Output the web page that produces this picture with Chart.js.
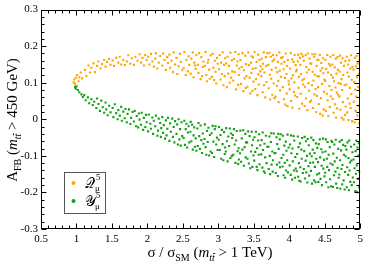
<!DOCTYPE html>
<html><head><meta charset="utf-8">
<script src="https://cdn.jsdelivr.net/npm/chart.js@4/dist/chart.umd.min.js"></script>
<style>html,body{margin:0;padding:0;background:#fff}</style>
</head><body>
<canvas id="c" width="367" height="262"></canvas>
<script>
const xTickValues=[0.5,1,1.5,2,2.5,3,3.5,4,4.5,5];
const yTickValues=[-0.3,-0.2,-0.1,0,0.1,0.2,0.3];
const seriesColors=['#FFA500','#12A012'];
// Q_mu^5 points [sigma/sigma_SM, A_FB]
const qPoints=[
[0.96,0.101],[0.98,0.097],[0.97,0.109],[0.99,0.114],
[1.01,0.121],[1.03,0.104],[1.06,0.128],[1.08,0.112],[1.04,0.115],
[1.12,0.135],[1.14,0.118],[1.17,0.147],[1.19,0.128],
[1.21,0.141],[1.24,0.153],[1.26,0.129],[1.29,0.146],
[1.31,0.158],[1.34,0.139],[1.36,0.151],[1.39,0.162],
[1.41,0.144],[1.43,0.157],[1.46,0.165],[1.48,0.149],
[1.51,0.161],[1.53,0.146],[1.56,0.168],[1.59,0.155],
[1.61,0.171],[1.63,0.150],[1.66,0.162],[1.68,0.148],
[1.71,0.158],[1.73,0.175],[1.76,0.152],[1.78,0.167],
[1.81,0.149],[1.83,0.171],[1.86,0.160],[1.89,0.178],
[1.91,0.155],[1.93,0.168],[1.95,0.147],[1.97,0.176],[1.99,0.162],
[2.01,0.171],[2.03,0.150],[2.05,0.179],[2.07,0.158],[2.09,0.144],
[2.11,0.166],[2.12,0.181],[2.14,0.139],[2.16,0.155],[2.18,0.173],
[2.21,0.147],[2.22,0.180],[2.24,0.162],[2.26,0.135],[2.28,0.170],[2.29,0.154],
[2.31,0.177],[2.32,0.141],[2.34,0.160],[2.36,0.129],[2.37,0.183],[2.39,0.150],
[2.41,0.168],[2.42,0.124],[2.44,0.145],[2.46,0.179],[2.47,0.157],[2.49,0.134],
[2.51,0.140],[2.52,0.184],[2.54,0.121],[2.55,0.162],[2.57,0.131],[2.58,0.172],[2.59,0.149],
[2.61,0.125],[2.62,0.166],[2.64,0.183],[2.65,0.115],[2.67,0.147],[2.68,0.138],[2.69,0.176],[2.66,0.155],
[2.71,0.149],[2.72,0.127],[2.73,0.181],[2.75,0.110],[2.76,0.170],[2.77,0.118],[2.79,0.158],[2.78,0.143],
[2.81,0.146],[2.82,0.184],[2.83,0.121],[2.84,0.104],[2.86,0.163],[2.87,0.136],[2.88,0.111],[2.89,0.175],[2.85,0.155],
[2.91,0.116],[2.92,0.179],[2.93,0.141],[2.94,0.107],[2.95,0.160],[2.96,0.130],[2.97,0.098],[2.98,0.168],[2.99,0.152],
[3.01,0.137],[3.02,0.176],[3.03,0.109],[3.04,0.155],[3.05,0.124],[3.06,0.183],[3.07,0.093],[3.08,0.149],[3.09,0.118],[3.095,0.167],
[3.11,0.153],[3.12,0.088],[3.13,0.171],[3.14,0.125],[3.15,0.146],[3.16,0.100],[3.17,0.182],[3.18,0.114],[3.19,0.161],[3.195,0.131],
[3.21,0.106],[3.22,0.165],[3.23,0.129],[3.24,0.184],[3.25,0.082],[3.26,0.147],[3.27,0.158],[3.28,0.094],[3.285,0.178],[3.29,0.121],[3.295,0.139],
[3.31,0.162],[3.32,0.097],[3.33,0.143],[3.34,0.181],[3.35,0.077],[3.36,0.134],[3.37,0.112],[3.38,0.174],[3.385,0.086],[3.39,0.151],[3.395,0.118],
[3.41,0.089],[3.42,0.183],[3.43,0.148],[3.44,0.114],[3.45,0.071],[3.46,0.155],[3.465,0.127],[3.47,0.172],[3.48,0.078],[3.485,0.138],[3.49,0.169],[3.495,0.103],
[3.51,0.184],[3.52,0.083],[3.525,0.140],[3.53,0.110],[3.54,0.157],[3.55,0.066],[3.56,0.177],[3.565,0.123],[3.57,0.095],[3.58,0.162],[3.59,0.131],[3.595,0.145],
[3.605,0.118],[3.61,0.166],[3.62,0.137],[3.625,0.074],[3.63,0.152],[3.64,0.183],[3.645,0.093],[3.65,0.128],[3.66,0.060],[3.67,0.170],[3.675,0.146],[3.68,0.102],[3.69,0.181],
[3.705,0.149],[3.71,0.085],[3.72,0.182],[3.725,0.122],[3.73,0.054],[3.74,0.171],[3.745,0.111],[3.75,0.135],[3.76,0.067],[3.765,0.159],[3.77,0.176],[3.78,0.098],[3.785,0.164],[3.79,0.058],
[3.805,0.062],[3.81,0.141],[3.82,0.175],[3.825,0.091],[3.83,0.129],[3.84,0.157],[3.845,0.105],[3.85,0.047],[3.86,0.183],[3.865,0.133],[3.87,0.079],[3.88,0.116],[3.885,0.168],[3.89,0.152],
[3.905,0.170],[3.91,0.088],[3.92,0.137],[3.925,0.055],[3.93,0.157],[3.94,0.113],[3.945,0.040],[3.95,0.180],[3.96,0.124],[3.965,0.071],[3.97,0.146],[3.975,0.036],[3.98,0.162],[3.99,0.104],[3.995,0.096],
[4.005,0.082],[4.01,0.139],[4.02,0.181],[4.025,0.050],[4.03,0.112],[4.04,0.164],[4.045,0.032],[4.05,0.120],[4.06,0.157],[4.065,0.075],[4.07,0.101],[4.075,0.176],[4.08,0.065],[4.09,0.148],[4.095,0.131],
[4.105,0.135],[4.11,0.061],[4.12,0.158],[4.125,0.177],[4.13,0.086],[4.135,0.116],[4.14,0.029],[4.15,0.168],[4.155,0.149],[4.16,0.070],[4.165,0.124],[4.17,0.179],[4.18,0.043],[4.185,0.107],[4.19,0.172],[4.195,0.095],
[4.205,0.160],[4.21,0.111],[4.215,0.036],[4.22,0.089],[4.23,0.175],[4.235,0.057],[4.24,0.143],[4.25,0.128],[4.255,0.025],[4.26,0.180],[4.27,0.099],[4.275,0.136],[4.28,0.078],[4.285,0.166],[4.29,0.047],[4.295,0.153],
[4.305,0.051],[4.31,0.152],[4.32,0.093],[4.325,0.178],[4.33,0.130],[4.335,0.031],[4.34,0.106],[4.35,0.171],[4.355,0.068],[4.36,0.122],[4.365,0.178],[4.37,0.083],[4.38,0.020],[4.385,0.146],[4.39,0.064],[4.395,0.163],[4.398,0.118],
[4.405,0.088],[4.41,0.162],[4.415,0.042],[4.42,0.117],[4.43,0.176],[4.435,0.015],[4.44,0.133],[4.445,0.058],[4.45,0.154],[4.46,0.097],[4.465,0.140],[4.47,0.010],[4.475,0.167],[4.48,0.126],[4.485,0.027],[4.49,0.075],[4.495,0.109],
[4.505,0.105],[4.51,0.163],[4.515,0.023],[4.52,0.138],[4.53,0.070],[4.535,0.176],[4.54,0.052],[4.545,0.128],[4.55,0.009],[4.56,0.152],[4.565,0.091],[4.57,0.034],[4.575,0.147],[4.58,0.171],[4.585,0.063],[4.59,0.121],[4.595,0.080],
[4.605,0.150],[4.61,0.056],[4.615,0.114],[4.62,0.176],[4.625,0.018],[4.63,0.104],[4.64,0.142],[4.645,0.041],[4.65,0.087],[4.655,0.166],[4.66,0.005],[4.665,0.125],[4.67,0.073],[4.675,0.030],[4.68,0.170],[4.685,0.135],[4.69,0.067],[4.695,0.099],
[4.705,0.062],[4.71,0.130],[4.715,0.174],[4.72,0.026],[4.725,0.097],[4.73,0.155],[4.735,0.110],[4.74,0.004],[4.745,0.080],[4.75,0.167],[4.755,0.047],[4.76,0.121],[4.765,-0.001],[4.77,0.146],[4.78,0.093],[4.785,0.012],[4.79,0.159],[4.795,0.035],
[4.805,0.095],[4.81,0.171],[4.815,0.019],[4.82,0.128],[4.825,0.057],[4.83,0.150],[4.835,-0.002],[4.84,0.117],[4.845,0.161],[4.85,0.043],[4.855,0.086],[4.86,0.139],[4.865,0.031],[4.87,0.175],[4.875,0.069],[4.88,0.108],[4.885,-0.005],[4.89,0.143],
[4.905,0.136],[4.91,0.048],[4.915,0.102],[4.92,-0.008],[4.925,0.168],[4.93,0.081],[4.935,0.023],[4.94,0.145],[4.945,0.062],[4.95,0.173],[4.955,0.115],[4.96,0.010],[4.965,0.153],[4.97,0.088],[4.975,0.037],[4.98,0.124],[4.985,-0.011],[4.99,0.164],[4.995,0.075]
];
// Y_mu^5 points [sigma/sigma_SM, A_FB]
const yPoints=[
[0.98,0.088],[0.99,0.084],[1.00,0.090],
[1.02,0.080],[1.04,0.074],[1.07,0.068],[1.09,0.061],
[1.11,0.066],[1.13,0.052],[1.16,0.060],[1.18,0.044],
[1.21,0.055],[1.23,0.039],[1.25,0.048],[1.28,0.031],[1.29,0.057],
[1.31,0.042],[1.33,0.023],[1.35,0.051],[1.37,0.033],[1.39,0.018],
[1.41,0.046],[1.42,0.027],[1.44,0.011],[1.46,0.037],[1.48,0.019],
[1.51,0.031],[1.52,0.006],[1.54,0.041],[1.56,0.017],[1.58,0.000],[1.59,0.025],
[1.61,0.010],[1.63,0.034],[1.64,-0.004],[1.66,0.021],[1.68,0.003],[1.69,0.028],
[1.71,-0.008],[1.72,0.015],[1.74,0.027],[1.76,-0.013],[1.77,0.004],[1.79,0.020],
[1.81,-0.006],[1.82,0.023],[1.84,-0.019],[1.85,0.009],[1.87,-0.022],[1.88,0.016],[1.89,-0.001],
[1.91,-0.015],[1.92,0.018],[1.94,-0.029],[1.95,0.004],[1.97,-0.021],[1.98,0.012],[1.99,-0.008],
[2.01,-0.033],[2.02,0.013],[2.04,-0.012],[2.05,-0.026],[2.07,0.005],[2.08,-0.040],[2.09,-0.004],
[2.11,-0.019],[2.12,0.010],[2.14,-0.045],[2.15,-0.031],[2.16,0.002],[2.18,-0.010],[2.19,-0.048],[2.195,-0.024],
[2.21,0.006],[2.22,-0.037],[2.23,-0.016],[2.25,-0.053],[2.26,-0.003],[2.27,-0.044],[2.28,-0.026],[2.29,0.004],
[2.31,-0.059],[2.32,-0.011],[2.33,-0.034],[2.35,0.002],[2.36,-0.048],[2.37,-0.021],[2.38,-0.063],[2.39,-0.005],
[2.41,-0.040],[2.42,-0.014],[2.43,-0.069],[2.44,0.000],[2.45,-0.055],[2.46,-0.027],[2.47,-0.072],[2.48,-0.008],[2.49,-0.046],
[2.51,-0.051],[2.52,-0.004],[2.53,-0.070],[2.54,-0.027],[2.55,-0.012],[2.56,-0.077],[2.57,-0.036],[2.58,-0.019],[2.59,-0.063],
[2.605,-0.034],[2.61,-0.007],[2.62,-0.060],[2.63,-0.015],[2.64,-0.083],[2.65,-0.044],[2.66,-0.022],[2.67,-0.075],[2.68,-0.052],[2.69,-0.086],
[2.705,-0.025],[2.71,-0.073],[2.72,-0.010],[2.73,-0.046],[2.74,-0.081],[2.75,-0.017],[2.76,-0.057],[2.77,-0.092],[2.78,-0.039],[2.79,-0.067],
[2.805,-0.054],[2.81,-0.014],[2.82,-0.076],[2.83,-0.097],[2.84,-0.032],[2.85,-0.062],[2.86,-0.023],[2.87,-0.099],[2.88,-0.043],[2.89,-0.088],
[2.905,-0.038],[2.91,-0.092],[2.92,-0.018],[2.93,-0.061],[2.94,-0.103],[2.95,-0.027],[2.96,-0.019],[2.97,-0.069],[2.98,-0.050],[2.99,-0.084],
[3.005,-0.056],[3.01,-0.021],[3.02,-0.084],[3.03,-0.043],[3.04,-0.108],[3.05,-0.029],[3.06,-0.068],[3.07,-0.112],[3.08,-0.035],[3.09,-0.095],[3.095,-0.077],
[3.105,-0.088],[3.11,-0.024],[3.12,-0.060],[3.13,-0.115],[3.14,-0.047],[3.15,-0.073],[3.16,-0.025],[3.17,-0.106],[3.18,-0.039],[3.19,-0.100],[3.195,-0.051],
[3.205,-0.043],[3.21,-0.097],[3.22,-0.027],[3.23,-0.069],[3.24,-0.119],[3.25,-0.058],[3.26,-0.032],[3.27,-0.087],[3.28,-0.122],[3.285,-0.079],[3.29,-0.110],
[3.305,-0.093],[3.31,-0.031],[3.32,-0.116],[3.33,-0.052],[3.34,-0.083],[3.35,-0.030],[3.36,-0.127],[3.37,-0.076],[3.38,-0.040],[3.385,-0.104],[3.39,-0.063],
[3.405,-0.063],[3.41,-0.108],[3.42,-0.033],[3.43,-0.121],[3.44,-0.046],[3.45,-0.134],[3.46,-0.088],[3.47,-0.034],[3.475,-0.071],[3.48,-0.130],[3.49,-0.056],[3.495,-0.099],
[3.505,-0.113],[3.51,-0.049],[3.52,-0.089],[3.53,-0.034],[3.54,-0.130],[3.545,-0.079],[3.55,-0.139],[3.56,-0.058],[3.57,-0.097],[3.575,-0.041],[3.58,-0.123],[3.59,-0.071],
[3.605,-0.096],[3.61,-0.057],[3.62,-0.132],[3.625,-0.036],[3.63,-0.084],[3.64,-0.142],[3.65,-0.067],[3.655,-0.146],[3.66,-0.104],[3.67,-0.045],[3.68,-0.120],[3.69,-0.075],
[3.705,-0.075],[3.71,-0.136],[3.72,-0.047],[3.725,-0.100],[3.73,-0.150],[3.74,-0.062],[3.745,-0.038],[3.75,-0.124],[3.76,-0.088],[3.765,-0.143],[3.77,-0.112],[3.78,-0.039],[3.79,-0.093],
[3.805,-0.092],[3.81,-0.147],[3.82,-0.049],[3.825,-0.124],[3.83,-0.068],[3.84,-0.155],[3.845,-0.040],[3.85,-0.081],[3.86,-0.118],[3.865,-0.055],[3.87,-0.131],[3.88,-0.041],[3.89,-0.106],
[3.905,-0.129],[3.91,-0.045],[3.915,-0.097],[3.92,-0.153],[3.93,-0.072],[3.935,-0.119],[3.94,-0.160],[3.95,-0.061],[3.955,-0.140],[3.96,-0.086],[3.97,-0.112],[3.975,-0.042],[3.98,-0.145],[3.99,-0.077],
[4.005,-0.126],[4.01,-0.069],[4.02,-0.152],[4.025,-0.044],[4.03,-0.093],[4.04,-0.165],[4.045,-0.080],[4.05,-0.115],[4.06,-0.046],[4.065,-0.140],[4.07,-0.058],[4.08,-0.160],[4.085,-0.103],[4.09,-0.135],
[4.105,-0.142],[4.11,-0.095],[4.12,-0.047],[4.125,-0.157],[4.13,-0.076],[4.135,-0.120],[4.14,-0.168],[4.15,-0.066],[4.155,-0.131],[4.16,-0.170],[4.17,-0.083],[4.175,-0.108],[4.18,-0.051],[4.19,-0.147],
[4.205,-0.136],[4.21,-0.087],[4.215,-0.048],[4.22,-0.162],[4.23,-0.113],[4.235,-0.060],[4.24,-0.145],[4.25,-0.100],[4.255,-0.173],[4.26,-0.054],[4.27,-0.128],[4.275,-0.071],[4.28,-0.154],[4.29,-0.094],[4.295,-0.119],
[4.305,-0.141],[4.31,-0.050],[4.315,-0.101],[4.32,-0.176],[4.33,-0.083],[4.335,-0.118],[4.34,-0.057],[4.35,-0.167],[4.355,-0.092],[4.36,-0.130],[4.37,-0.172],[4.375,-0.066],[4.38,-0.108],[4.39,-0.151],[4.395,-0.078],
[4.405,-0.117],[4.41,-0.171],[4.415,-0.068],[4.42,-0.148],[4.43,-0.055],[4.435,-0.104],[4.44,-0.163],[4.45,-0.082],[4.455,-0.127],[4.46,-0.180],[4.47,-0.090],[4.475,-0.053],[4.48,-0.135],[4.49,-0.111],[4.495,-0.156],
[4.505,-0.146],[4.51,-0.088],[4.515,-0.055],[4.52,-0.172],[4.53,-0.108],[4.535,-0.130],[4.54,-0.062],[4.55,-0.186],[4.555,-0.097],[4.56,-0.139],[4.57,-0.076],[4.575,-0.164],[4.58,-0.121],[4.59,-0.183],[4.595,-0.059],
[4.605,-0.062],[4.61,-0.124],[4.615,-0.185],[4.62,-0.094],[4.63,-0.153],[4.635,-0.069],[4.64,-0.115],[4.65,-0.143],[4.655,-0.056],[4.66,-0.176],[4.67,-0.105],[4.675,-0.188],[4.68,-0.133],[4.69,-0.081],[4.695,-0.160],
[4.705,-0.151],[4.71,-0.061],[4.715,-0.112],[4.72,-0.190],[4.73,-0.085],[4.735,-0.136],[4.74,-0.057],[4.745,-0.178],[4.75,-0.125],[4.76,-0.070],[4.765,-0.167],[4.77,-0.097],[4.78,-0.192],[4.785,-0.144],[4.79,-0.073],[4.795,-0.101],
[4.805,-0.083],[4.81,-0.186],[4.815,-0.131],[4.82,-0.063],[4.83,-0.152],[4.835,-0.106],[4.84,-0.194],[4.845,-0.058],[4.85,-0.140],[4.855,-0.118],[4.86,-0.171],[4.87,-0.075],[4.875,-0.113],[4.88,-0.180],[4.89,-0.090],[4.895,-0.159],
[4.905,-0.110],[4.91,-0.172],[4.915,-0.069],[4.92,-0.134],[4.93,-0.196],[4.935,-0.087],[4.94,-0.149],[4.945,-0.058],[4.95,-0.126],[4.955,-0.199],[4.96,-0.077],[4.97,-0.163],[4.975,-0.099],[4.98,-0.065],[4.985,-0.186],[4.99,-0.143]
];

const SERIF='"Liberation Serif","Times New Roman",serif';

function drawRuns(ctx, runs, cx, baseY){
  let total=0;
  runs.forEach(r=>{ctx.font=(r.it?'italic ':'')+r.size+'px '+SERIF;r.w=ctx.measureText(r.t).width;total+=r.w;});
  let x=cx-total/2;
  ctx.textBaseline='alphabetic';ctx.textAlign='left';
  runs.forEach(r=>{
    ctx.font=(r.it?'italic ':'')+r.size+'px '+SERIF;
    ctx.fillText(r.t,x,baseY+(r.dy||0));
    if(r.bar){
      const lw=ctx.measureText(r.t.slice(-1)).width;
      const bx=x+r.w-lw+1, by=baseY+(r.dy||0)-r.size*0.8;
      ctx.fillRect(bx,by,lw-0.5,0.8);
    }
    x+=r.w;
  });
}

const decorations={
  id:'decorations',
  afterDraw(chart){
    const {ctx,chartArea:a,scales:{x,y}}=chart;
    ctx.save();
    ctx.fillStyle='#000';ctx.strokeStyle='#000';ctx.lineWidth=1;
    const L=Math.round(a.left)+0.5,R=Math.round(a.right)-0.5,T=Math.round(a.top)+0.5,B=Math.round(a.bottom)-0.5;
    ctx.strokeRect(L,T,R-L,B-T);
    ctx.beginPath();
    const xMin=xTickValues[0],xMax=xTickValues[xTickValues.length-1];
    for(let i=0;i<=Math.round((xMax-xMin)/0.1);i++){
      const v=xMin+i*0.1, px=Math.round(x.getPixelForValue(v))+0.5, len=(i%5===0)?5:3;
      ctx.moveTo(px,B);ctx.lineTo(px,B-len);
      ctx.moveTo(px,T);ctx.lineTo(px,T+len);
    }
    const yMin=yTickValues[0],yMax=yTickValues[yTickValues.length-1];
    for(let i=0;i<=Math.round((yMax-yMin)/0.02);i++){
      const v=yMin+i*0.02, py=Math.round(y.getPixelForValue(v))+0.5, len=(i%5===0)?5:3;
      ctx.moveTo(L,py);ctx.lineTo(L+len,py);
      ctx.moveTo(R,py);ctx.lineTo(R-len,py);
    }
    ctx.stroke();

    // x axis title
    drawRuns(ctx,[
      {t:'σ / σ',size:15},{t:'SM',size:10,dy:4},{t:' (',size:15},
      {t:'m',size:15,it:true},{t:'tt',size:10,it:true,dy:4,bar:true},{t:' > 1 TeV)',size:15}
    ],210,257);

    // y axis title (rotated)
    ctx.save();
    ctx.translate(17,120);ctx.rotate(-Math.PI/2);
    drawRuns(ctx,[
      {t:'A',size:15},{t:'FB',size:10,dy:4},{t:' (',size:15},
      {t:'m',size:15,it:true},{t:'tt',size:10,it:true,dy:4,bar:true},{t:' > 450 GeV)',size:15}
    ],0,0);
    ctx.restore();

    // legend
    ctx.strokeStyle='#555';
    ctx.strokeRect(64.5,172.5,41,41);
    const names=[{s:'𝒬',by:188},{s:'𝒴',by:206}];
    names.forEach((n,i)=>{
      ctx.fillStyle=seriesColors[i];
      ctx.beginPath();ctx.arc(73.5,n.by-5,2,0,Math.PI*2);ctx.fill();
      ctx.fillStyle='#000';
      ctx.font='14px "DejaVu Serif","DejaVu Sans",serif';
      ctx.fillText(n.s,85,n.by);
      ctx.font='9px '+SERIF;
      ctx.fillText('5',96,n.by-8);
      ctx.fillText('μ',95,n.by+3);
    });
    ctx.restore();
  }
};

new Chart(document.getElementById('c'),{
  type:'scatter',
  data:{datasets:[
    {label:'Q',data:qPoints.map(p=>({x:p[0],y:p[1]})),backgroundColor:seriesColors[0],pointStyle:'rect',pointRadius:1.5,borderWidth:0},
    {label:'Y',data:yPoints.map(p=>({x:p[0],y:p[1]})),backgroundColor:seriesColors[1],pointStyle:'rect',pointRadius:1.5,borderWidth:0}
  ]},
  options:{
    responsive:false,animation:false,events:[],devicePixelRatio:1,
    layout:{padding:{top:5,right:3,left:0,bottom:0}},
    plugins:{legend:{display:false},tooltip:{enabled:false}},
    scales:{
      x:{type:'linear',min:0.5,max:5,
        afterBuildTicks:s=>{s.ticks=xTickValues.map(v=>({value:v}));},
        afterFit:s=>{s.height=33;},
        grid:{display:false,drawTicks:false},border:{display:false},
        ticks:{color:'#000',padding:4,maxRotation:0,autoSkip:false,font:{family:SERIF,size:11},callback:v=>String(v)}},
      y:{type:'linear',min:-0.3,max:0.3,
        afterBuildTicks:s=>{s.ticks=yTickValues.map(v=>({value:v}));},
        afterFit:s=>{s.width=41;},
        grid:{display:false,drawTicks:false},border:{display:false},
        ticks:{color:'#000',padding:3,autoSkip:false,font:{family:SERIF,size:11},callback:v=>String(Math.round(v*10)/10)}}
    }
  },
  plugins:[decorations]
});
</script>
</body></html>
